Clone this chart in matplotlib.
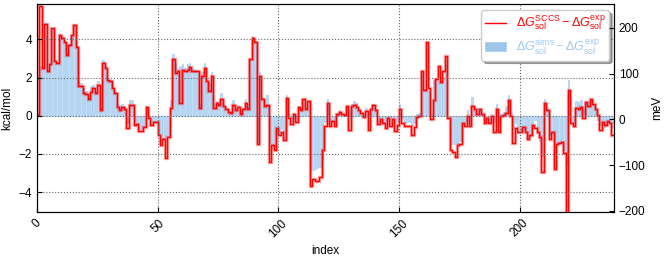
import numpy as np
import matplotlib
matplotlib.use('Agg')
import matplotlib.pyplot as plt

plt.rcParams['font.family'] = ['Liberation Sans', 'DejaVu Sans']
plt.rcParams['font.size'] = 8.5
plt.rcParams['mathtext.fontset'] = 'custom'
plt.rcParams['mathtext.rm'] = 'Liberation Sans'
plt.rcParams['mathtext.it'] = 'Liberation Sans:italic'
plt.rcParams['xtick.direction'] = 'in'
plt.rcParams['ytick.direction'] = 'in'

# dG(SCCS) - dG(exp), kcal/mol
sccs = [0.05, 5.74, 2.51, 4.8, 2.37, 2.69, 4.59, 2.86, 2.77, 4.22,
        4.1, 3.84, 3.21, 3.7, 4.22, 4.75, 3.61, 1.54, 1.57, 1.19,
        1.15, 0.89, 1.27, 1.48, 1.2, 1.59, 0.3, 2.79, 2.48, 1.9,
        1.83, 1.43, 1.17, 0.47, 0.3, 0.47, 0.38, -0.63, 0.59, 0.59,
        -0.49, -0.44, -0.8, -0.8, -0.58, 0.47, -0.14, -0.49, -0.35, -0.31,
        -1.01, -1.54, -1.24, -2.23, -1.13, 0.42, 2.95, 2.22, 2.37, 0.68,
        2.39, 2.36, 2.39, 2.57, 2.36, 2.34, 2.34, 0.42, 2.09, 2.48,
        1.82, 1.31, 2.11, 0.42, 0.65, 0.54, 0.9, 0.51, 0.35, 0.21,
        0.17, 0.59, 0.3, 0.47, 0.07, 0.33, 0.65, 0.38, 2.95, 4.08,
        3.84, -1.48, 2.08, 0.86, 0.51, 0.54, -2.44, -1.55, -1.8, -0.63,
        -0.98, -0.84, -1.27, 0.92, -0.1, -0.44, 0.07, -0.35, 0.44, 0.3,
        0.86, 0.35, 0.77, -3.68, -3.33, -3.4, -3.4, -3.23, -1.8, -0.52,
        0.68, -0.52, -0.26, -0.54, 0.07, 0.21, 0.07, 0.03, 0.51, -0.75,
        0.51, 0.59, 0.47, 0.3, 0.17, -0.05, 0.24, -0.75, 0.33, 0.59,
        0.3, -0.45, -0.19, -0.37, -0.66, -0.14, -0.54, -0.19, -0.79, -0.49,
        0.38, -0.37, -0.54, -0.54, -0.54, -1.01, -0.58, -0.05, 0.0, 2.34,
        1.34, 3.87, 1.47, -0.19, 0.82, 1.92, 2.62, 1.78, 2.34, 3.12,
        -0.1, -1.8, -1.88, -2.15, -1.54, -1.48, -0.37, -0.54, 0.0, -0.54,
        0.52, 0.33, 0.07, 0.35, 0.07, -0.37, -0.14, -0.37, 0.0, -0.84,
        0.38, -0.87, 0.0, 0.03, 0.17, 0.82, 0.0, -1.45, -0.63, -0.84,
        -0.84, -0.58, -0.84, -1.19, -1.01, -0.49, -0.63, -0.84, -1.1, -2.93,
        0.68, 0.3, -1.19, -0.84, -2.81, -1.5, -1.45, -1.36, -1.97, -5.5,
        1.34, -0.37, -0.54, 0.42, 0.38, 0.47, -0.14, 0.73, 0.51, 0.86,
        0.61, 0.33, 0.03, -0.72, -0.31, -0.49, -0.28, -0.37, -1.01]

# dG(aims) - dG(exp), kcal/mol
aims = [0.25, 2.6, 2.55, 4.87, 2.4, 2.75, 4.6, 2.9, 2.8, 4.3,
        4.2, 3.9, 3.3, 3.75, 4.3, 4.8, 3.7, 1.8, 1.7, 1.4,
        1.3, 1.0, 1.5, 1.6, 1.3, 1.8, 0.5, 2.9, 2.6, 2.0,
        1.9, 1.5, 1.25, 0.6, 0.55, 0.6, 0.5, -0.4, 0.82, 0.82,
        -0.5, -0.45, -0.7, -0.7, -0.55, 0.5, -0.1, -0.45, -0.35, -0.3,
        -1.0, -1.2, -1.15, -1.2, -1.1, 0.82, 3.23, 2.77, 2.5, 2.6,
        2.69, 2.5, 2.69, 2.77, 2.5, 2.45, 2.4, 0.6, 2.3, 2.77,
        1.9, 1.7, 2.3, 0.6, 0.8, 0.8, 1.2, 0.6, 0.4, 0.3,
        0.25, 0.82, 0.35, 0.55, 0.15, 0.4, 0.86, 0.45, 3.0, 4.2,
        3.9, -1.3, 2.3, 1.0, 0.6, 1.08, -1.4, -1.7, -1.6, -0.9,
        -1.0, -0.7, -1.2, 1.08, 0.1, -0.3, 0.15, -0.25, 0.5, 0.35,
        0.9, 0.4, 0.8, -2.9, -2.85, -2.8, -2.75, -2.7, -2.3, -0.3,
        0.86, -0.4, -0.3, -0.4, 0.15, 0.3, 0.15, 0.1, 0.5, 0.3,
        0.6, 0.75, 0.65, 0.4, 0.25, 0.1, 0.4, 0.3, 0.4, 0.6,
        0.35, -0.3, -0.15, -0.3, -0.5, -0.1, -0.4, -0.15, -0.4, -0.35,
        0.6, -0.1, -0.3, -0.3, -0.35, -0.5, -0.4, 0.1, 0.15, 2.2,
        1.4, 1.4, 1.3, 0.1, 1.9, 1.9, 1.8, 1.8, 2.0, 2.7,
        -0.1, -1.5, -1.5, -1.5, -1.5, -1.3, -0.3, -0.4, 0.3, -0.4,
        1.0, 0.4, 0.4, 0.4, 0.2, -0.3, -0.1, -0.3, 0.1, -0.3,
        0.6, -0.5, 0.1, 0.2, 0.5, 1.1, 0.2, -0.7, -0.4, -0.8,
        -0.8, -0.8, -0.8, -1.1, -1.1, -0.5, -0.2, -0.9, -1.3, -2.1,
        0.86, 0.4, -1.0, -0.9, -2.0, -1.5, -1.5, -1.3, -1.8, -2.6,
        1.85, -0.3, -0.4, 0.8, 0.7, 0.85, 0.3, 0.8, 0.8, 0.9,
        0.6, 0.4, -0.2, -0.5, -0.3, -0.6, -0.3, -0.3, -0.6]

idx = np.arange(len(sccs))
edges = np.arange(len(sccs) + 1)
blue = '#9fc8ee'

fig = plt.figure(figsize=(6.65, 2.56), dpi=100)
ax = fig.add_axes([0.0556, 0.171, 0.8675, 0.813])

ax.bar(idx, aims, width=0.6, align='edge', color='#c2ddf6', edgecolor='#95c3ec',
       linewidth=0.4,
       label=r'$\Delta G_{\rm sol}^{\rm aims} - \Delta G_{\rm sol}^{\rm exp}$')
ax.stairs(sccs, edges, baseline=None, color='red', lw=2.4, alpha=0.35)
ax.stairs(sccs, edges, baseline=None, color='red', lw=1.0,
          label=r'$\Delta G_{\rm sol}^{\rm SCCS} - \Delta G_{\rm sol}^{\rm exp}$')

ax.set_xlim(0, len(sccs))
ax.set_ylim(-5.05, 5.85)
ax.set_yticks([-4, -2, 0, 2, 4])
ax.set_xticks([0, 50, 100, 150, 200])
plt.setp(ax.get_xticklabels(), rotation=45)
ax.grid(True, ls=':', color='0.4', lw=0.8)
ax.set_xlabel('index')
ax.set_ylabel('kcal/mol')

ax2 = ax.twinx()
ax2.set_ylim(-203, 252)
ax2.set_yticks([-200, -100, 0, 100, 200])
ax2.set_ylabel('meV')

h, l = ax.get_legend_handles_labels()
leg = ax.legend(h, l, loc='upper right', bbox_to_anchor=(0.992, 0.97),
                fontsize=9, fancybox=True, shadow=True, handlelength=1.65,
                handletextpad=0.8, borderpad=0.3, labelspacing=0.3,
                borderaxespad=0.0)
for p in leg.get_patches():
    p.set_facecolor('#9cc5ea')
    p.set_edgecolor('#9cc5ea')
for t, c in zip(leg.get_texts(), ['red', blue]):
    t.set_color(c)

fig.savefig('out.png', dpi=100)
